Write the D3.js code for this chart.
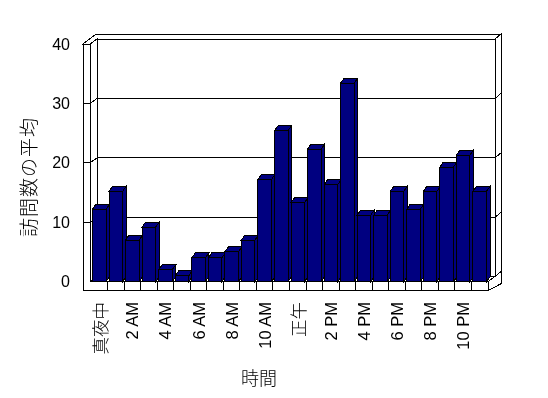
<!DOCTYPE html>
<html>
<head>
<meta charset="utf-8">
<script src="https://cdn.jsdelivr.net/npm/d3@7"></script>
<style>
  body { margin: 0; background: #fff; }
  svg { will-change: transform; }
  text { font-family: "Liberation Sans", "Noto Sans CJK JP", sans-serif; fill: #000; }
  .cjk { font-family: "Noto Sans CJK JP", sans-serif; font-weight: 300; }
</style>
</head>
<body>
<script>
// hourly categories (tick labels shown on every other one)
const categories = ["真夜中", "1 AM", "2 AM", "3 AM", "4 AM", "5 AM", "6 AM", "7 AM", "8 AM", "9 AM", "10 AM", "11 AM",
                    "正午", "1 PM", "2 PM", "3 PM", "4 PM", "5 PM", "6 PM", "7 PM", "8 PM", "9 PM", "10 PM", "11 PM"];
const values = [12.2, 15.2, 7.0, 9.2, 2.0, 1.0, 4.0, 4.0, 5.0, 7.0, 17.2, 25.4,
                13.3, 22.3, 16.3, 33.4, 11.2, 11.2, 15.2, 12.2, 15.2, 19.3, 21.3, 15.2];
const yTicks = [0, 10, 20, 30, 40];
const gridValues = [10, 20, 30];
const yTitle = "訪問数の平均";
const xTitle = "時間";

const width = 548, height = 398;
const svg = d3.select("body").append("svg")
    .attr("width", width).attr("height", height)
    .attr("shape-rendering", "crispEdges");

const x = d3.scaleBand().domain(categories).range([91, 488]);
const y = d3.scaleLinear().domain([0, 40]).range([281.7, 44]);

const depth = {dx: 7, dy: -5};   // floor front -> back wall face
const wall = {dx: 6, dy: -5};    // back wall thickness
const barD = {dx: 3.5, dy: -5};  // bar depth
const leftX = 83, innerX = 90, floorH = 9;
const x0 = innerX, x1 = x.range()[1];
const y0 = y(0), yTop = y(40);

const pts = a => a.map(p => p.join(",")).join(" ");
const poly = (a, fill) => svg.append("polygon").attr("points", pts(a))
    .attr("fill", fill || "#fff").attr("stroke", "#000").attr("stroke-width", 1);

// walls and floor
poly([[x0 + depth.dx, yTop + depth.dy], [x1 + depth.dx, yTop + depth.dy],
      [x1 + depth.dx, y0 + depth.dy], [x0 + depth.dx, y0 + depth.dy]]);
poly([[leftX, yTop], [innerX, yTop], [x0 + depth.dx, yTop + depth.dy], [x1 + depth.dx, yTop + depth.dy],
      [x1 + depth.dx + wall.dx, yTop + depth.dy + wall.dy],
      [leftX + depth.dx + wall.dx, yTop + depth.dy + wall.dy]]);
poly([[x1 + depth.dx, yTop + depth.dy], [x1 + depth.dx + wall.dx, yTop + depth.dy + wall.dy],
      [x1 + depth.dx + wall.dx, y0 + depth.dy + wall.dy], [x1 + depth.dx, y0 + depth.dy]]);
poly([[innerX, yTop], [x0 + depth.dx, yTop + depth.dy], [x0 + depth.dx, y0 + depth.dy], [innerX, y0]]);
poly([[innerX, y0], [x1, y0], [x1 + depth.dx, y0 + depth.dy], [x0 + depth.dx, y0 + depth.dy]]);
poly([[x1, y0], [x1 + depth.dx + wall.dx, y0 + depth.dy + wall.dy],
      [x1 + depth.dx + wall.dx, y0 + floorH + depth.dy + wall.dy + 3], [x1, y0 + floorH]]);
poly([[leftX, yTop], [innerX, yTop], [innerX, y0], [x1, y0], [x1, y0 + floorH], [leftX, y0 + floorH]]);

// floor front dividers
svg.append("g").selectAll("line").data(categories.slice(1)).join("line")
    .attr("x1", d => x(d)).attr("x2", d => x(d))
    .attr("y1", y0).attr("y2", y0 + floorH)
    .attr("stroke", "#000");

// gridlines wrapping left wall, back wall and right side
const grid = svg.append("g").attr("fill", "none").attr("stroke", "#000");
gridValues.forEach(v => {
  const yv = y(v);
  grid.append("polyline").attr("points", pts([
    [leftX, yv], [innerX, yv], [x0 + depth.dx, yv + depth.dy], [x1 + depth.dx, yv + depth.dy],
    [x1 + depth.dx + wall.dx, yv + depth.dy + wall.dy]]));
});

// bars
const pad = 1.5, bw = x.bandwidth() - 3;
const bars = svg.append("g").selectAll("g").data(values).join("g");
bars.each(function(v, i) {
  const b = d3.select(this);
  const bx = x(categories[i]) + pad, yv = y(v);
  const mk = a => b.append("polygon").attr("points", pts(a))
      .attr("fill", "#000080").attr("stroke", "#000");
  mk([[bx + bw, yv], [bx + bw + barD.dx, yv + barD.dy], [bx + bw + barD.dx, y0 + barD.dy], [bx + bw, y0]]);
  mk([[bx, yv], [bx + bw, yv], [bx + bw + barD.dx, yv + barD.dy], [bx + barD.dx, yv + barD.dy]]);
  mk([[bx, yv], [bx + bw, yv], [bx + bw, y0], [bx, y0]]);
});

// y tick labels
svg.append("g").selectAll("text").data(yTicks).join("text")
    .attr("x", 70).attr("y", d => y(d))
    .attr("text-anchor", "end").attr("dominant-baseline", "central")
    .attr("font-size", 16)
    .text(d => d);

// x tick labels, every other hour
svg.append("g").selectAll("text").data(categories.filter((d, i) => i % 2 === 0)).join("text")
    .attr("class", d => /[A-Z]/.test(d) ? null : "cjk")
    .attr("transform", d => `translate(${x(d) + pad + bw / 2},302) rotate(-90)`)
    .attr("text-anchor", "end").attr("dominant-baseline", "central")
    .attr("font-size", d => /[A-Z]/.test(d) ? 16.5 : 17.5)
    .text(d => d);

// axis titles
svg.append("text").attr("class", "cjk")
    .attr("transform", "translate(27,177) rotate(-90)")
    .attr("text-anchor", "middle").attr("dominant-baseline", "central")
    .attr("font-size", 19).attr("letter-spacing", 1)
    .text(yTitle);
svg.append("text").attr("class", "cjk")
    .attr("x", 259).attr("y", 377)
    .attr("text-anchor", "middle").attr("dominant-baseline", "central")
    .attr("font-size", 18)
    .text(xTitle);
</script>
</body>
</html>
